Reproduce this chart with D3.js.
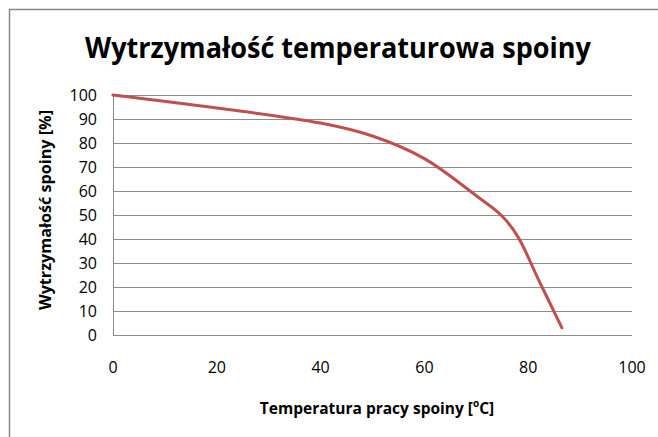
<!DOCTYPE html>
<html>
<head>
<meta charset="utf-8">
<script src="https://cdnjs.cloudflare.com/ajax/libs/d3/7.8.5/d3.min.js"></script>
<style>
  body { margin: 0; background: #fff; }
  text { font-family: "Open Sans", "Lato", sans-serif; fill: #000; }
</style>
</head>
<body>
<svg id="chart" width="658" height="437"></svg>
<script>
// temperatura [C] i wytrzymalosc [%]
const temps    = [0,   20,   40,   50,   60,   70, 75,   78, 82, 86.5];
const strength = [100, 94.6, 88.3, 82.9, 73.5, 58, 49.5, 41, 23, 3];
const xTicks = [0, 20, 40, 60, 80, 100];
const yTicks = [0, 10, 20, 30, 40, 50, 60, 70, 80, 90, 100];

const svg = d3.select('#chart');

// ramka wykresu
svg.append('path')
   .attr('d', 'M9.5,437 V9.5 H658')
   .attr('fill', 'none')
   .attr('stroke', '#888')
   .attr('stroke-width', 1.5);

const plot = {left: 113, right: 632, top: 95, bottom: 335};

const x = d3.scaleLinear().domain([0, 100]).range([plot.left, plot.right]);
const y = d3.scaleLinear().domain([0, 100]).range([plot.bottom, plot.top]);

// linie siatki
svg.append('g')
   .selectAll('line')
   .data(yTicks)
   .join('line')
   .attr('x1', plot.left)
   .attr('x2', plot.right)
   .attr('y1', d => Math.round(y(d)) + 0.5)
   .attr('y2', d => Math.round(y(d)) + 0.5)
   .attr('stroke', '#8c8c8c')
   .attr('stroke-width', 1);

svg.append('line')
   .attr('x1', plot.left + 0.5).attr('x2', plot.left + 0.5)
   .attr('y1', plot.top).attr('y2', plot.bottom)
   .attr('stroke', '#8c8c8c');

// etykiety osi Y
svg.append('g')
   .selectAll('text')
   .data(yTicks)
   .join('text')
   .attr('x', 97)
   .attr('y', d => y(d) + 5.5)
   .attr('text-anchor', 'end')
   .style('font-size', '16px')
   .text(d => d);

// etykiety osi X
svg.append('g')
   .selectAll('text')
   .data(xTicks)
   .join('text')
   .attr('x', d => x(d))
   .attr('y', 373)
   .attr('text-anchor', 'middle')
   .style('font-size', '16px')
   .text(d => d);

// krzywa
const line = d3.line()
   .x((d, i) => x(temps[i]))
   .y(d => y(d))
   .curve(d3.curveCatmullRom.alpha(0.5));

svg.append('path')
   .datum(strength)
   .attr('d', line)
   .attr('fill', 'none')
   .attr('stroke', '#c0504d')
   .attr('stroke-width', 3)
   .attr('stroke-linecap', 'round');

// tytul
svg.append('text')
   .attr('x', 338)
   .attr('y', 58)
   .attr('text-anchor', 'middle')
   .attr('textLength', 506)
   .attr('lengthAdjust', 'spacingAndGlyphs')
   .style('font-size', '29px')
   .style('font-weight', 'bold')
   .text('Wytrzymałość temperaturowa spoiny');

// tytul osi X
const xt = svg.append('text')
   .attr('x', 377)
   .attr('y', 414)
   .attr('text-anchor', 'middle')
   .style('font-size', '15.5px')
   .style('font-weight', 'bold');
xt.append('tspan').text('Temperatura pracy spoiny [');
xt.append('tspan').attr('baseline-shift', 'super').style('font-size', '10px').text('o');
xt.append('tspan').text('C]');

// tytul osi Y
svg.append('text')
   .attr('transform', 'translate(51,210) rotate(-90)')
   .attr('text-anchor', 'middle')
   .attr('textLength', 200)
   .attr('lengthAdjust', 'spacingAndGlyphs')
   .style('font-size', '15.5px')
   .style('font-weight', 'bold')
   .text('Wytrzymałość spoiny [%]');
</script>
</body>
</html>
